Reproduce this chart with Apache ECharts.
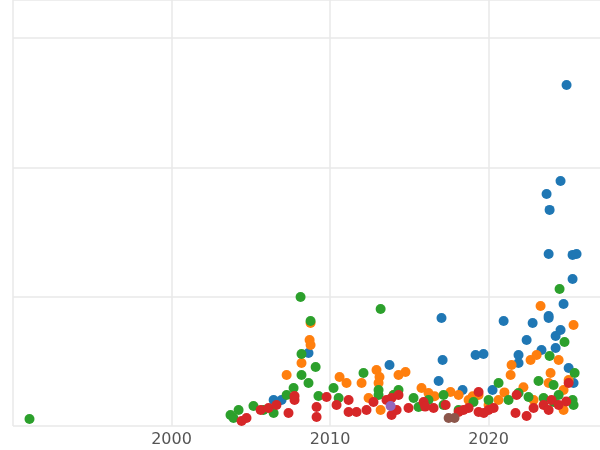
<!DOCTYPE html>
<html><head><meta charset="utf-8">
<script src="https://cdn.jsdelivr.net/npm/echarts@6/dist/echarts.min.js"></script>
<style>html,body{margin:0;padding:0;background:#fff}#c{width:600px;height:450px}</style>
</head><body><div id="c"></div>
<script>
var blue = [[2024.92,2.637],[2023.66,1.794],[2023.85,1.671],[2024.54,1.895],[2023.79,1.330],[2025.30,1.323],[2025.55,1.330],[2025.30,1.137],[2024.73,0.944],[2023.79,0.851],[2023.79,0.835],[2022.78,0.797],[2023.34,0.588],[2022.40,0.665],[2020.95,0.812],[2021.89,0.549],[2021.89,0.487],[2024.23,0.696],[2024.23,0.603],[2024.54,0.742],[2017.03,0.835],[2017.10,0.510],[2019.68,0.557],[2019.18,0.549],[2016.85,0.348],[2013.75,0.472],[2006.94,0.201],[2008.64,0.565],[2006.44,0.201],[2018.36,0.278],[2020.25,0.278],[2025.36,0.333],[2025.05,0.449]];
var orange = [[2008.77,0.797],[2008.71,0.665],[2008.77,0.626],[2008.20,0.487],[2007.26,0.394],[2010.60,0.379],[2011.04,0.333],[2011.99,0.333],[2012.93,0.433],[2013.12,0.379],[2013.06,0.333],[2014.32,0.394],[2014.76,0.418],[2012.43,0.217],[2013.19,0.124],[2015.77,0.294],[2017.60,0.263],[2018.74,0.201],[2019.37,0.240],[2020.63,0.201],[2021.39,0.394],[2021.45,0.472],[2022.65,0.510],[2023.03,0.549],[2023.28,0.928],[2025.36,0.781],[2024.42,0.510],[2024.73,0.278],[2023.79,0.333],[2023.91,0.410],[2025.05,0.356],[2020.00,0.162],[2018.11,0.240],[2016.21,0.255],[2014.01,0.240],[2024.73,0.124],[2022.84,0.201],[2019.0,0.230],[2021.0,0.260],[2016.6,0.230],[2022.2,0.300]];
var green = [[1991.04,0.054],[2008.14,0.998],[2008.77,0.812],[2013.19,0.905],[2024.48,1.060],[2008.20,0.557],[2008.20,0.394],[2009.09,0.456],[2023.85,0.541],[2024.79,0.650],[2025.43,0.410],[2020.63,0.333],[2021.89,0.255],[2023.15,0.348],[2024.42,0.240],[2025.30,0.201],[2025.36,0.162],[2003.72,0.085],[2004.23,0.124],[2005.17,0.155],[2005.80,0.124],[2006.44,0.101],[2007.26,0.240],[2007.70,0.294],[2008.64,0.333],[2009.27,0.232],[2010.22,0.294],[2010.54,0.217],[2012.11,0.410],[2013.06,0.278],[2014.32,0.278],[2015.27,0.217],[2016.21,0.201],[2017.16,0.162],[2018.11,0.124],[2019.05,0.186],[2020.00,0.201],[2021.26,0.201],[2022.52,0.224],[2023.47,0.217],[2024.10,0.186],[2024.10,0.317],[2003.91,0.062],[2013.06,0.240],[2014.01,0.240],[2015.58,0.147],[2017.16,0.240]];
var red = [[2004.42,0.039],[2004.73,0.062],[2005.62,0.124],[2006.12,0.139],[2006.62,0.162],[2007.38,0.101],[2007.76,0.201],[2007.76,0.232],[2009.15,0.070],[2009.15,0.147],[2009.78,0.224],[2010.41,0.162],[2011.17,0.108],[2011.67,0.108],[2011.17,0.201],[2012.30,0.124],[2012.74,0.186],[2013.88,0.085],[2013.88,0.217],[2014.32,0.240],[2014.95,0.139],[2015.90,0.186],[2016.53,0.139],[2017.29,0.162],[2018.11,0.108],[2018.74,0.139],[2019.37,0.108],[2019.37,0.263],[2020.00,0.124],[2020.32,0.139],[2021.70,0.101],[2022.40,0.077],[2022.84,0.139],[2023.47,0.162],[2023.97,0.201],[2024.42,0.162],[2025.05,0.333],[2021.77,0.240],[2014.20,0.124],[2013.56,0.201],[2018.42,0.124],[2023.79,0.124],[2019.7,0.100],[2016.0,0.150],[2024.9,0.190]];
var brown = [[2017.48,0.062],[2017.85,0.062]];
var purple = [[2013.82,0.155]];

function sc(data, color) {
  return { type: 'scatter', data: data, symbolSize: 10, itemStyle: { color: color, opacity: 1 }, silent: true };
}
var chart = echarts.init(document.getElementById('c'));
chart.setOption({
  animation: false,
  grid: { left: 13, right: -10, top: 0, bottom: 24, containLabel: false, outerBoundsMode: 'none' },
  xAxis: { type: 'value', min: 1990, max: 2027.66, interval: 10,
    axisLine: { show: false }, axisTick: { show: false },
    axisLabel: { color: '#555', fontSize: 16, fontFamily: 'DejaVu Sans', margin: 6, showMinLabel: false, showMaxLabel: false,
      formatter: function (v) { return (v > 1990 && v < 2027) ? String(v) : ''; } },
    splitLine: { lineStyle: { color: '#e8e8e8', width: 1.5 } } },
  yAxis: { type: 'value', min: 0, max: 3.294, interval: 1,
    axisLine: { show: false }, axisTick: { show: false }, axisLabel: { show: false },
    splitLine: { lineStyle: { color: '#e8e8e8', width: 1.5 } } },
  series: [sc(blue, '#1f77b4'), sc(orange, '#ff7f0e'), sc(green, '#2ca02c'), sc(red, '#d62728'), sc(brown, '#8c564b'), sc(purple, '#9467bd')]
});
</script></body></html>
